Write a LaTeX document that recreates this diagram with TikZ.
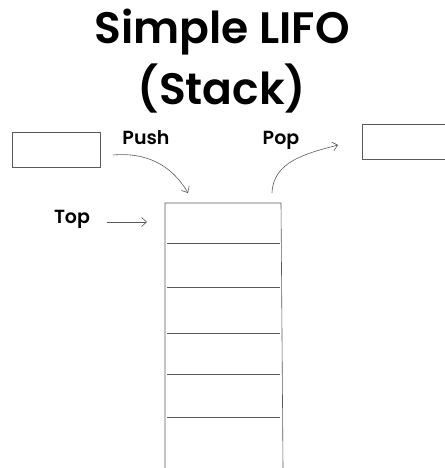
\documentclass[tikz,border=0pt]{standalone}
\usepackage{fontspec}
\setmainfont{Poppins}[BoldFont={Poppins SemiBold}]
\usetikzlibrary{arrows.meta}
\begin{document}
\begin{tikzpicture}[x=1pt,y=-1pt,line width=0.6pt,
  sketch/.style={draw=black!65},
  slot/.style={sketch,minimum width=88pt,minimum height=35pt,inner sep=0pt},
  lbl/.style={font=\fontsize{19}{23}\selectfont\bfseries},
  headline/.style={font=\fontsize{44}{50}\selectfont\bfseries},
  barb/.style={sketch,-{Straight Barb[length=5pt,width=9pt]}}]
   \useasboundingbox (0,0) rectangle (444,468);
   % title
   \node[headline] (title) at (222,32) {Simple LIFO};
   \node[headline] (subtitle) at (222,89) {(Stack)};
   % boxes going in and out
   \node[slot] (inbox) at (56,149.5) {};
   \node[slot,anchor=west] (outbox) at (362,141.5) {};
   \node[lbl] (push) at (146,138) {Push};
   \node[lbl] (pop) at (281,140) {Pop};
   \node[lbl] (top) at (72,219) {Top};
   \coordinate (pushfrom) at (113,155);
   \coordinate (pushto) at (188,193);
   \coordinate (popfrom) at (272,193);
   \coordinate (popto) at (338,145);
   \coordinate (topfrom) at (107,222);
   \coordinate (topto) at (147,222);
   \draw[barb] (pushfrom) to[out=5,in=120] (pushto);
   \draw[barb] (popfrom) to[out=88,in=195] (popto);
   \draw[barb] (topfrom) -- (topto);
   % the stack, open at the bottom
   \draw[sketch] (165,468) -- (165,203) -- (281,203) -- (283,468);
   \foreach \y in {243,287,333,374,417}
      \draw[sketch] (167,\y) -- (280,\y);
\end{tikzpicture}
\end{document}
